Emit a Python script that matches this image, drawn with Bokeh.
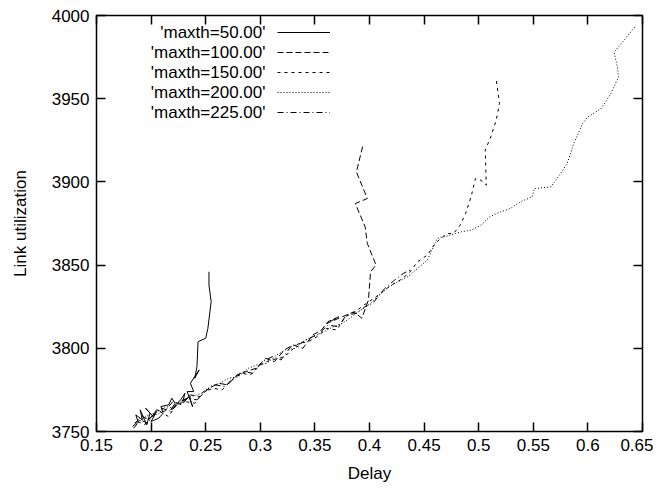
from bokeh.plotting import figure
from bokeh.models import Range1d, LinearAxis, FixedTicker, Legend, LegendItem, Label
from bokeh.embed import file_html
from bokeh.resources import INLINE

# ---------------- data ----------------
x_ticks = [0.15, 0.2, 0.25, 0.3, 0.35, 0.4, 0.45, 0.5, 0.55, 0.6, 0.65]
y_ticks = [3750, 3800, 3850, 3900, 3950, 4000]

m50_x = [0.183, 0.188, 0.186, 0.192, 0.190, 0.196, 0.199, 0.195, 0.202, 0.205, 0.200, 0.207,
         0.211, 0.209, 0.216, 0.219, 0.222, 0.218, 0.227, 0.231, 0.229, 0.235, 0.238, 0.233,
         0.239, 0.236, 0.241, 0.244, 0.240, 0.242, 0.243, 0.250, 0.252, 0.255, 0.253, 0.253]
m50_y = [3753, 3756, 3760, 3757, 3763, 3754, 3761, 3764, 3759, 3762, 3756, 3758,
         3761, 3765, 3766, 3770, 3767, 3763, 3769, 3773, 3768, 3771, 3765, 3774,
         3774, 3779, 3784, 3787, 3782, 3789, 3804, 3806, 3812, 3828, 3838, 3846]

m100_x = [0.185, 0.192, 0.198, 0.205, 0.212, 0.220, 0.228, 0.236, 0.245, 0.253, 0.262, 0.270,
          0.279, 0.287, 0.296, 0.305, 0.313, 0.322, 0.330, 0.339, 0.348, 0.356, 0.362, 0.372,
          0.361, 0.386, 0.393, 0.399, 0.401, 0.406, 0.398, 0.396, 0.387, 0.398, 0.388, 0.394]
m100_y = [3755, 3759, 3757, 3763, 3762, 3768, 3766, 3772, 3771, 3776, 3779, 3778,
          3784, 3786, 3788, 3794, 3792, 3799, 3802, 3800, 3808, 3811, 3816, 3819,
          3815, 3822, 3818, 3829, 3846, 3850, 3863, 3873, 3887, 3890, 3906, 3922]

m150_x = [0.188, 0.194, 0.201, 0.208, 0.216, 0.223, 0.231, 0.240, 0.248, 0.257, 0.265, 0.274,
          0.283, 0.291, 0.300, 0.309, 0.318, 0.326, 0.335, 0.344, 0.352, 0.361, 0.370, 0.378,
          0.387, 0.395, 0.404, 0.412, 0.420, 0.428, 0.436, 0.444, 0.453, 0.459, 0.465,
          0.471, 0.477, 0.483, 0.488, 0.493, 0.497, 0.502, 0.507, 0.506, 0.511, 0.516, 0.519, 0.516]
m150_y = [3756, 3754, 3760, 3762, 3759, 3766, 3768, 3767, 3774, 3776, 3775, 3781,
          3785, 3784, 3790, 3793, 3794, 3797, 3803, 3804, 3807, 3812, 3811, 3819,
          3822, 3826, 3830, 3834, 3838, 3841, 3845, 3852, 3856, 3862, 3866,
          3869, 3869, 3874, 3881, 3891, 3902, 3901, 3898, 3919, 3927, 3937, 3947, 3962]

m200_x = [0.186, 0.193, 0.200, 0.206, 0.213, 0.221, 0.229, 0.237, 0.246, 0.254, 0.263, 0.271,
          0.280, 0.289, 0.297, 0.306, 0.315, 0.323, 0.332, 0.341, 0.349, 0.358, 0.367, 0.375,
          0.384, 0.392, 0.401, 0.409, 0.418, 0.426, 0.435, 0.444, 0.453, 0.462, 0.474, 0.484,
          0.493, 0.502, 0.510, 0.520, 0.529, 0.538, 0.549, 0.551, 0.566, 0.575, 0.581, 0.587,
          0.595, 0.600, 0.612, 0.621, 0.628, 0.627, 0.624, 0.633, 0.644]
m200_y = [3754, 3758, 3761, 3760, 3765, 3764, 3769, 3771, 3773, 3777, 3779, 3782,
          3783, 3788, 3790, 3791, 3796, 3799, 3800, 3805, 3807, 3810, 3813, 3815,
          3819, 3823, 3827, 3832, 3837, 3840, 3843, 3848, 3853, 3866, 3868, 3870,
          3871, 3874, 3879, 3882, 3884, 3888, 3891, 3896, 3897, 3905, 3911, 3923,
          3935, 3939, 3944, 3953, 3963, 3969, 3978, 3985, 3994]

m225_x = [0.184, 0.190, 0.197, 0.203, 0.210, 0.218, 0.226, 0.234, 0.242, 0.251, 0.259, 0.268,
          0.276, 0.285, 0.293, 0.302, 0.311, 0.319, 0.328, 0.337, 0.345, 0.354, 0.362, 0.371,
          0.379, 0.388, 0.396, 0.403, 0.409, 0.414, 0.423, 0.431, 0.437]
m225_y = [3752, 3757, 3755, 3761, 3764, 3762, 3768, 3770, 3769, 3775, 3778, 3777,
          3783, 3786, 3785, 3792, 3795, 3793, 3801, 3803, 3806, 3809, 3814, 3813,
          3820, 3821, 3825, 3827, 3832, 3836, 3841, 3845, 3847]

labels = ["'maxth=50.00'", "'maxth=100.00'", "'maxth=150.00'", "'maxth=200.00'", "'maxth=225.00'"]
dashes = ["solid", "6 3", "3 4", "1 2", "6 3 1 3"]

FONT = "Liberation Sans"
FS = "17px"

p = figure(width=653, height=485, output_backend="svg", toolbar_location=None,
           x_range=Range1d(0.15, 0.65), y_range=Range1d(3750, 4000),
           min_border_left=96, min_border_right=11, min_border_top=15, min_border_bottom=53)
p.xgrid.visible = False
p.ygrid.visible = False
p.outline_line_color = "black"
p.outline_line_width = 1.5
p.background_fill_color = "white"
p.border_fill_color = "white"

for ax, ticks in ((p.xaxis[0], x_ticks), (p.yaxis[0], y_ticks)):
    ax.ticker = FixedTicker(ticks=ticks)
    ax.major_tick_in = 9
    ax.major_tick_out = 0
    ax.minor_tick_line_color = None
    ax.axis_line_color = None
    ax.major_tick_line_width = 1.5
    ax.major_label_text_font = FONT
    ax.major_label_text_font_size = FS
    ax.major_label_text_color = "black"
    ax.axis_label_text_font = FONT
    ax.axis_label_text_font_size = FS
    ax.axis_label_text_font_style = "normal"
    ax.axis_label_text_color = "black"
    ax.major_label_standoff = 7

p.xaxis[0].axis_label = "Delay"
p.yaxis[0].axis_label = "Link utilization"
p.yaxis[0].axis_label_standoff = 19
p.xaxis[0].axis_label_standoff = 10

# mirrored ticks on top and right
top = LinearAxis(ticker=FixedTicker(ticks=x_ticks), major_tick_in=9, major_tick_out=0,
                 minor_tick_line_color=None, axis_line_color=None, major_tick_line_width=1.5,
                 major_label_text_color=None, major_label_text_font_size="1px", major_label_standoff=0)
right = LinearAxis(ticker=FixedTicker(ticks=y_ticks), major_tick_in=9, major_tick_out=0,
                   minor_tick_line_color=None, axis_line_color=None, major_tick_line_width=1.5,
                   major_label_text_color=None, major_label_text_font_size="1px", major_label_standoff=0)
p.add_layout(top, "above")
p.add_layout(right, "right")

series = [(m50_x, m50_y), (m100_x, m100_y), (m150_x, m150_y), (m200_x, m200_y), (m225_x, m225_y)]
renderers = []
for (xs, ys), d in zip(series, dashes):
    r = p.line(xs, ys, line_color="black", line_width=1, line_dash=d)
    renderers.append(r)

items = [LegendItem(label=" ", renderers=[r]) for r in renderers]
leg = Legend(items=items, location=(181, 309), glyph_width=53, glyph_height=20,
             label_height=20, label_width=0, label_standoff=0, spacing=0, padding=0, margin=0,
             background_fill_alpha=0, border_line_color=None, label_text_font_size="1px")
p.add_layout(leg, "center")

for i, lab in enumerate(labels):
    p.add_layout(Label(x=169, y=399 - 20 * i, x_units="screen", y_units="screen", text=lab,
                       text_align="right", text_baseline="middle", text_font=FONT,
                       text_font_size=FS, text_color="black"))

open("out.html", "w").write(file_html(p, INLINE))
